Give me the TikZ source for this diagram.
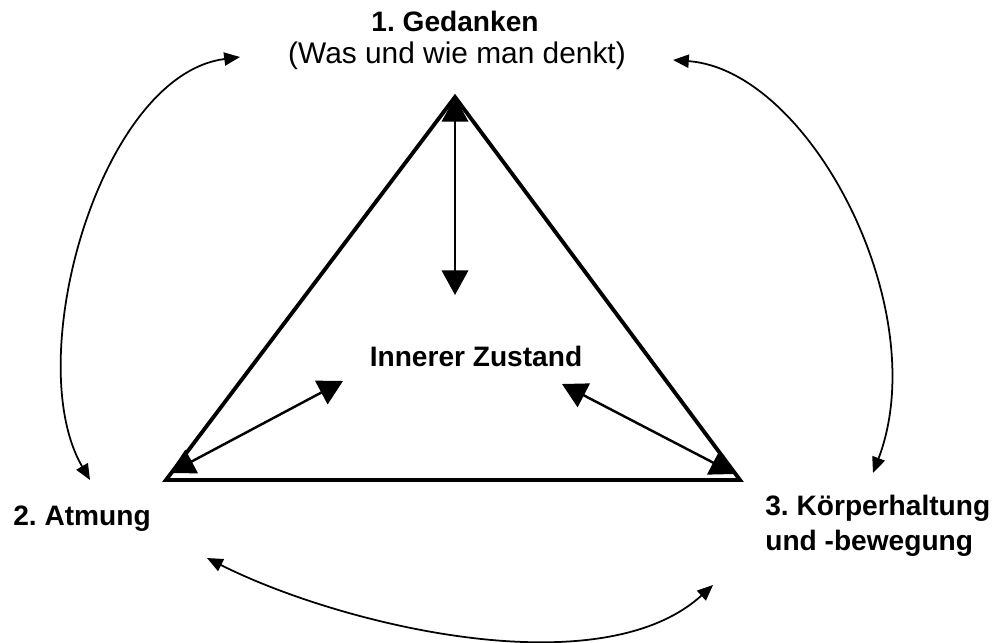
\documentclass[tikz,border=0pt]{standalone}
\usepackage{fontspec}
\setmainfont{Liberation Sans}
\usetikzlibrary{arrows.meta}
\tikzset{
  side/.style={line width=2.2pt,line join=miter},
  dbl/.style={line width=1.4pt,{Triangle[length=14pt,width=15pt]}-{Triangle[length=14pt,width=15pt]}},
  swing/.style={line width=1pt,{Triangle[length=9pt,width=7.5pt]}-{Triangle[length=9pt,width=7.5pt]}},
  lbl/.style={inner sep=0pt,anchor=base,font=\fontsize{16}{20}\selectfont\bfseries\frenchspacing}
}

\begin{document}
\begin{tikzpicture}[x=0.02cm,y=-0.02cm]
\useasboundingbox (0,0) rectangle (999,642);
% labels
\node[lbl] (ged) at (455,32) {1. Gedanken};
\node[lbl,font=\fontsize{17}{20}\selectfont] (was) at (457,64) {(Was und wie man denkt)};
\node[lbl] (inner) at (476,366) {Innerer Zustand};
\node[lbl,anchor=base west] (atm) at (13,525) {2. Atmung};
\node[lbl,anchor=north west,align=left] (koe) at (765,495) {3. Körperhaltung\\und -bewegung};
% triangle
\coordinate (apex) at (455,97);
\coordinate (bl) at (166,480);
\coordinate (br) at (740,480);
\draw[side] (apex) -- (bl) -- (br) -- cycle;
% arrows inside
\coordinate (mid) at (455,295);
\coordinate (blin) at (170,473); \coordinate (lin) at (343,381);
\coordinate (brin) at (735,474); \coordinate (rin) at (562,384);
\draw[dbl] (apex) -- (mid);
\draw[dbl] (blin) -- (lin);
\draw[dbl] (rin) -- (brin);
% arrows outside
\coordinate (gl) at (240,57); \coordinate (al) at (90,480);
\coordinate (gr) at (673,60); \coordinate (kr) at (873,473);
\coordinate (ab) at (207,558); \coordinate (kb) at (713,585);
\draw[swing] (gl) .. controls (100,75) and (20,360) .. (al);
\draw[swing] (gr) .. controls (810,70) and (935,310) .. (kr);
\draw[swing] (ab) .. controls (340,625) and (600,688) .. (kb);
\end{tikzpicture}
\end{document}
